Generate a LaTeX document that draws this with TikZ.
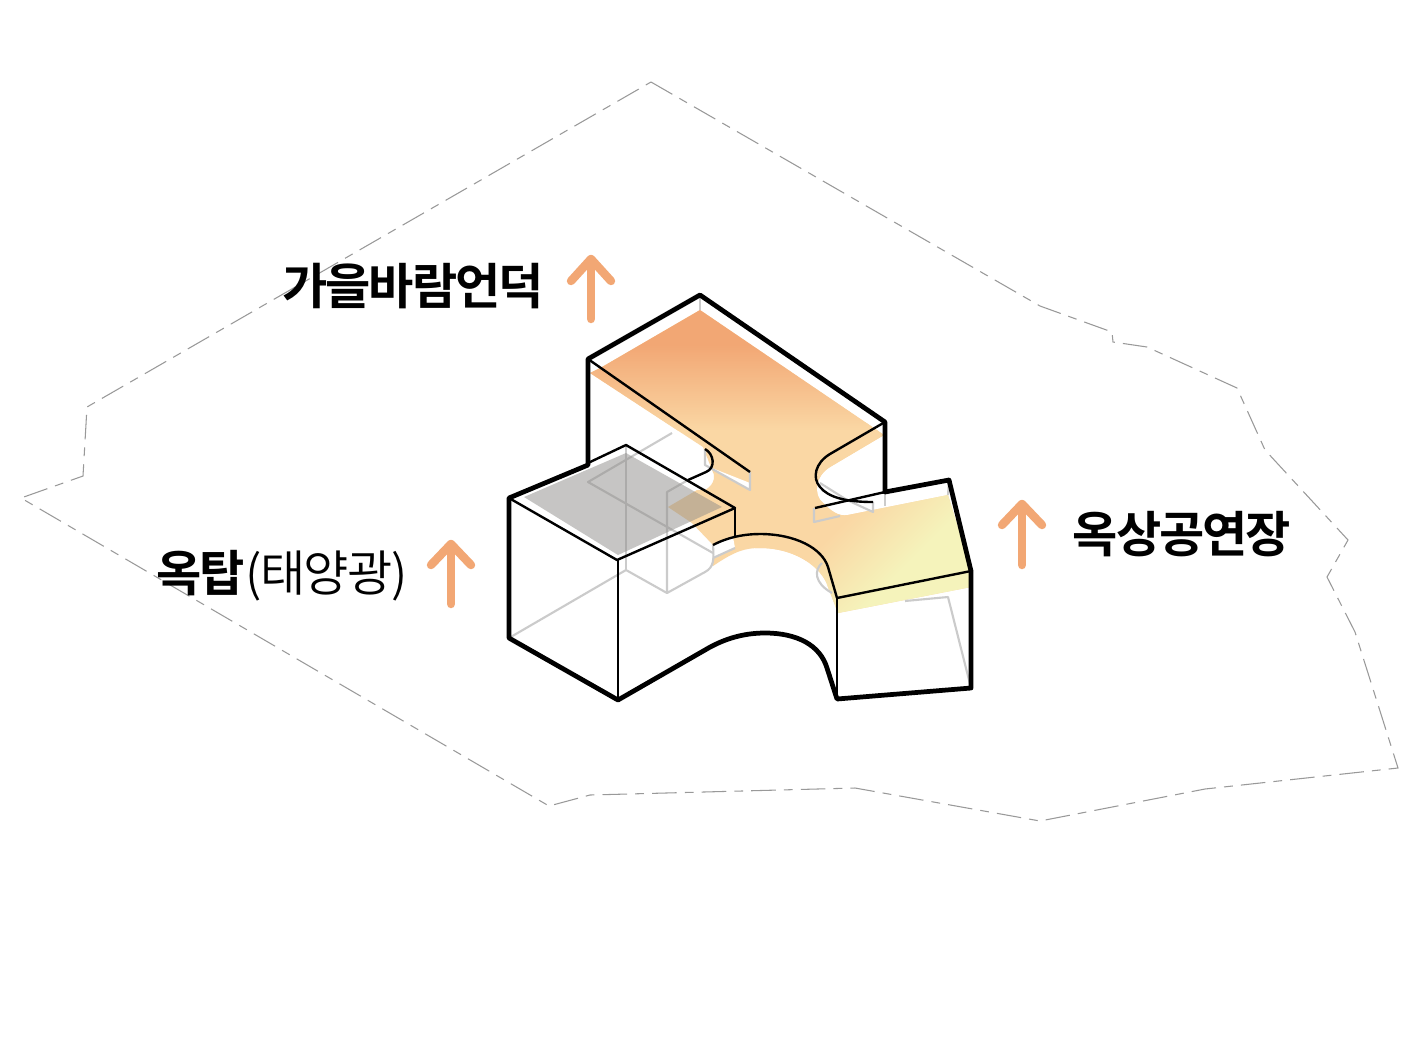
\documentclass[tikz,border=0pt]{standalone}
\usepackage{fontspec}
\usetikzlibrary{positioning}
\newfontfamily\krbold[LetterSpace=-4.2]{Noto Sans CJK KR Bold}
\newfontfamily\krlight[LetterSpace=-3]{Noto Sans CJK KR DemiLight}
\definecolor{roofgray}{HTML}{8F8D8A}
\definecolor{lineorange}{HTML}{F2A774}
\definecolor{floorlight}{HTML}{FAD7A4}
\definecolor{flooryellow}{HTML}{F5F3BB}
\definecolor{hiddengray}{HTML}{CBCBCB}
\pgfdeclarehorizontalshading{armshade}{100bp}{color(0bp)=(floorlight); color(45bp)=(floorlight); color(62bp)=(flooryellow); color(100bp)=(flooryellow)}
\tikzset{
  sitelimit/.style={draw=black!40,line width=0.3pt,dash pattern=on 7pt off 2.3pt on 2.5pt off 2.3pt},
  heavyline/.style={draw=black,line width=1.35pt,line join=round},
  thinline/.style={draw=black,line width=0.68pt,line join=round},
  hiddenline/.style={draw=hiddengray,line width=0.6pt,line join=round},
  uparrow/.style={draw=lineorange,line width=2.4pt,line cap=round,line join=round},
  label/.style={inner sep=0pt,font=\fontsize{14pt}{17pt}\selectfont}
}
\begin{document}
\begin{tikzpicture}[x=0.01cm,y=-0.01cm]
\useasboundingbox (0,0) rectangle (1418,1063);
\fill[white] (0,0) rectangle (1418,1063);

% Site boundary
\draw[sitelimit] (651,82) -- (1040,306) -- (1112,332) -- (1113,342) -- (1147,347) -- (1237,388) -- (1265,450) -- (1348,540) -- (1327,577) -- (1355,632) -- (1398,768) -- (1205,789) -- (1040,821) -- (855,788) -- (590,795) -- (549,806) -- (21,498) -- (83,476) -- (87,407) -- cycle;

% Floor
\begin{scope}
\clip (590,373) -- (602,367) -- (700,310) -- (884,435) -- (830,467) .. controls (815,476) and (813,495) .. (823,503) .. controls (830,510) and (838,517) .. (848,515) -- (948,495) -- (971,570) -- (971,587) -- (838,613) -- (828,587) .. controls (822,567) and (795,548) .. (760,548) .. controls (745,548) and (735,551) .. (713,566) -- (713,545) -- (692,523) -- (668,507) -- (697,490) -- (705,490) .. controls (716,484) and (715,474) .. (712,470) -- (703,447) -- cycle;
\fill[floorlight] (560,280) rectangle (1000,640);
\shade[shading=armshade,shading angle=-45] (755,422) rectangle (975,642);
\fill[lineorange] (560,280) rectangle (900,345);
\shade[top color=lineorange,bottom color=floorlight] (560,345) rectangle (900,430);
\end{scope}
\fill[white] (705,465) -- (750,490) -- (750,483) -- (712,468) -- cycle;
\fill[white] (713,545) -- (733,537) -- (735,548) -- (713,558) -- cycle;

% Hidden lines
\draw[hiddenline] (700,295) -- (700,310);
\draw[hiddenline] (705,449) -- (705,465) -- (750,490) -- (750,472);
\draw[hiddenline] (672,433) -- (588,482) -- (713,553);
\draw[hiddenline] (688,480) -- (667,492) -- (667,593) -- (705,572) .. controls (714,567) and (714,560) .. (713,545);
\draw[hiddenline] (713,558) -- (735,548);
\draw[hiddenline] (509,638) -- (626,570) -- (667,593);
\draw[hiddenline] (626,445) -- (626,570);
\draw[hiddenline] (814,508) -- (814,522) -- (840,516);
\draw[hiddenline] (820,483) -- (847,500) -- (873,512) -- (873,502);
\draw[hiddenline] (885,492) -- (885,506);
\draw[hiddenline] (949,480) -- (948,495);
\draw[hiddenline] (905,601) -- (948,597) -- (971,688);
\draw[hiddenline] (822,563) .. controls (814,570) and (814,583) .. (832,593);

% Solar roof
\fill[roofgray,opacity=0.5] (524,497) -- (626,453) -- (722,507) -- (618,555) -- cycle;

% Building outline
\draw[thinline] (885,422) -- (830,454) .. controls (815,463) and (812,478) .. (820,487) .. controls (828,497) and (845,502) .. (873,502);
\draw[thinline] (815,508) -- (885,492);
\draw[thinline] (588,359) -- (750,472);
\draw[thinline] (705,449) .. controls (714,454) and (716,468) .. (706,472) -- (688,480);
\draw[thinline] (588,463) -- (626,445) -- (735,508) -- (617,560) -- (509,498);
\draw[thinline] (618,560) -- (618,700);
\draw[thinline] (735,508) -- (735,537);
\draw[thinline] (713,545) .. controls (728,537) and (745,534) .. (760,534) .. controls (795,534) and (822,548) .. (828,567) -- (837,598) -- (971,571);
\draw[thinline] (837,598) -- (837,699);
\draw[heavyline] (588,465) -- (509,498) -- (509,638) -- (618,700) -- (705,650) .. controls (725,638) and (745,633) .. (765,633) .. controls (797,633) and (820,645) .. (827,668) -- (837,699) -- (971,688) -- (971,571) -- (949,480) -- (885,492) -- (885,422) -- (700,295) -- (588,359) -- cycle;

% Arrows
\draw[uparrow] (591,319) -- (591,259);
\draw[uparrow] (571,281) -- (591,259) -- (611,281);
\draw[uparrow] (451,604) -- (451,544);
\draw[uparrow] (431,565) -- (451,544) -- (471,565);
\draw[uparrow] (1022,565) -- (1022,504);
\draw[uparrow] (1002,525) -- (1022,504) -- (1042,525);

% Labels
\node[label] (hill) at (413,286) {\krbold 가을바람언덕};
\node[label,anchor=west] (tower) at (156,576) {{\krbold 옥탑}{\krlight (태양광)}};
\node[label] (stage) at (1182,534) {\krbold 옥상공연장};
\end{tikzpicture}
\end{document}
